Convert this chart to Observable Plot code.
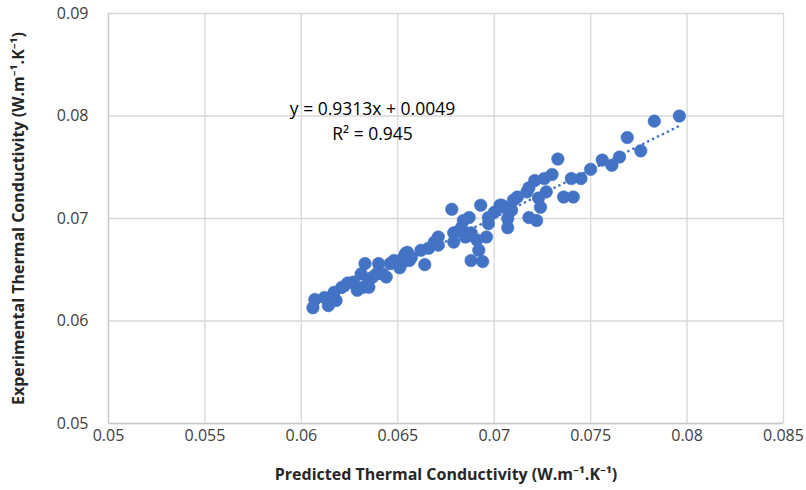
<!DOCTYPE html>
<html><head><meta charset="utf-8">
<script src="https://cdn.jsdelivr.net/npm/d3@7"></script>
<script src="https://cdn.jsdelivr.net/npm/@observablehq/plot@0.6"></script>
<style>body{margin:0;background:#fff;}</style>
</head><body><div id="chart"></div>
<script>
// Predicted (x) vs experimental (y) thermal conductivity, W·m⁻¹·K⁻¹
const predicted = [
  0.0607, 0.0606, 0.0612, 0.0614, 0.0618, 0.0617, 0.0621, 0.0624, 0.0627, 0.0630,
  0.0631, 0.0633, 0.0632, 0.0635, 0.0637, 0.0640, 0.0639, 0.0642, 0.0644, 0.0646,
  0.0648, 0.0651, 0.0653, 0.0654, 0.0629, 0.0635, 0.0652, 0.0656,
  0.0678, 0.0693, 0.0687, 0.0684, 0.0703, 0.0707, 0.0700, 0.0697, 0.0697, 0.0696,
  0.0691, 0.0688, 0.0685, 0.0682, 0.0683, 0.0679, 0.0679, 0.0692, 0.0688, 0.0694,
  0.0671, 0.0669, 0.0666, 0.0662, 0.0664, 0.0655, 0.0653, 0.0657, 0.0671, 0.0686, 0.0687,
  0.0733, 0.0756, 0.0761, 0.0750, 0.0745, 0.0740, 0.0730, 0.0726, 0.0721, 0.0718,
  0.0717, 0.0712, 0.0710, 0.0727, 0.0723, 0.0724, 0.0736, 0.0741, 0.0718, 0.0722,
  0.0707, 0.0707, 0.0705, 0.0709, 0.0704,
  0.0765, 0.0769, 0.0776, 0.0783, 0.0796
];
const experimental = [
  0.0621, 0.0613, 0.0623, 0.0615, 0.0620, 0.0628, 0.0633, 0.0637, 0.0638, 0.0632,
  0.0646, 0.0656, 0.0633, 0.0640, 0.0643, 0.0656, 0.0646, 0.0646, 0.0643, 0.0656,
  0.0659, 0.0652, 0.0661, 0.0666, 0.0630, 0.0633, 0.0656, 0.0659,
  0.0709, 0.0713, 0.0701, 0.0698, 0.0713, 0.0710, 0.0706, 0.0701, 0.0695, 0.0682,
  0.0679, 0.0686, 0.0682, 0.0688, 0.0691, 0.0686, 0.0677, 0.0669, 0.0659, 0.0658,
  0.0682, 0.0677, 0.0671, 0.0669, 0.0655, 0.0667, 0.0662, 0.0662, 0.0674, 0.0683, 0.0685,
  0.0758, 0.0757, 0.0752, 0.0748, 0.0739, 0.0739, 0.0743, 0.0739, 0.0737, 0.0730,
  0.0726, 0.0721, 0.0718, 0.0726, 0.0720, 0.0711, 0.0721, 0.0721, 0.0701, 0.0698,
  0.0691, 0.0700, 0.0711, 0.0708, 0.0713,
  0.0760, 0.0779, 0.0766, 0.0795, 0.0800
];
const xTicks = [0.05, 0.055, 0.06, 0.065, 0.07, 0.075, 0.08, 0.085];
const yTicks = [0.05, 0.06, 0.07, 0.08, 0.09];
const slope = 0.9313, intercept = 0.0049, rSquared = 0.945;
const xTitle = "Predicted Thermal Conductivity (W.m\u207B\u00B9.K\u207B\u00B9)";
const yTitle = "Experimental Thermal Conductivity (W.m\u207B\u00B9.K\u207B\u00B9)";
const equationText = `y = ${slope}x + ${intercept}`;
const r2Text = `R\u00B2 = ${rSquared}`;

const points = predicted.map((x, i) => ({x, y: experimental[i]}));
const trend = d3.extent(predicted).map(x => ({x, y: slope * x + intercept}));
const fmt = d => String(+d.toFixed(3));
const font = "'Open Sans', 'Noto Sans', sans-serif";

const chart = Plot.plot({
  width: 806, height: 490,
  marginLeft: 108, marginRight: 23, marginTop: 13, marginBottom: 67,
  style: {fontFamily: font, fontSize: "16px", color: "#404040", background: "#fff"},
  x: {domain: [0.05, 0.085]},
  y: {domain: [0.05, 0.09]},
  marks: [
    Plot.gridX(xTicks, {stroke: "#d9d9d9", strokeOpacity: 1, strokeWidth: 1.3}),
    Plot.gridY(yTicks, {stroke: "#d9d9d9", strokeOpacity: 1, strokeWidth: 1.3}),
    Plot.ruleX([0.05], {stroke: "#c8c8c8", strokeWidth: 1.3}),
    Plot.ruleY([0.05], {stroke: "#c8c8c8", strokeWidth: 1.3}),
    Plot.axisX(xTicks, {tickSize: 0, tickPadding: 6, tickFormat: fmt, label: null, fontSize: 16, fill: "#404040"}),
    Plot.axisY(yTicks, {tickSize: 0, tickPadding: 20, tickFormat: fmt, label: null, fontSize: 16, fill: "#404040"}),
    Plot.dot(points, {x: "x", y: "y", r: 6.3, fill: "#4472C4", stroke: "#4472C4", strokeWidth: 0.5}),
    Plot.line(trend, {x: "x", y: "y", stroke: "#4472C4", strokeWidth: 2.6,
      strokeDasharray: "0.1 5.4", strokeLinecap: "round"}),
    Plot.text([equationText], {frameAnchor: "top-left", dx: 264, dy: 89, text: d => d,
      fontSize: 17.5, fill: "#000", textAnchor: "middle", fontFamily: font}),
    Plot.text([r2Text], {frameAnchor: "top-left", dx: 264, dy: 114, text: d => d,
      fontSize: 17.5, fill: "#000", textAnchor: "middle", fontFamily: font}),
    Plot.text([xTitle], {frameAnchor: "bottom", dy: 56, text: d => d, textAnchor: "middle",
      fontSize: 16, fontWeight: "bold", fill: "#262626", fontFamily: font}),
    Plot.text([yTitle], {frameAnchor: "left", dx: -90, rotate: -90, text: d => d, textAnchor: "middle",
      fontSize: 16, fontWeight: "bold", fill: "#262626", fontFamily: font})
  ]
});
document.getElementById("chart").append(chart);
</script>
</body></html>
